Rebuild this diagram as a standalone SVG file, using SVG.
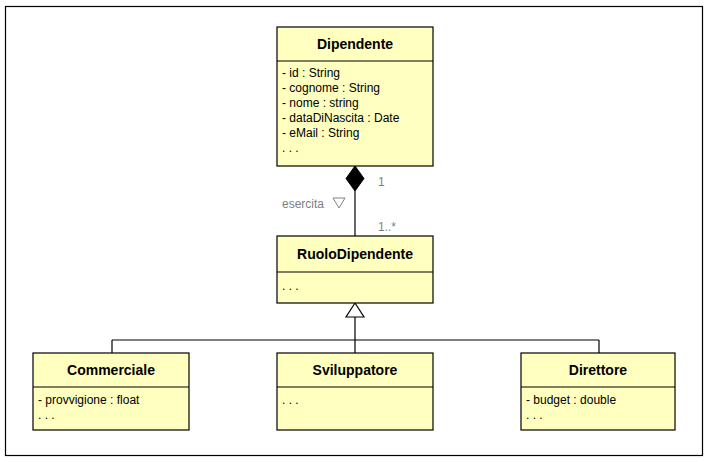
<svg xmlns="http://www.w3.org/2000/svg" width="711" height="462" viewBox="0 0 711 462">
<style>
.box{fill:#ffffc0;stroke:#000;stroke-width:1.2}
.ln{stroke:#000;stroke-width:1.2;fill:none}
.t{font-family:"Liberation Sans",Arial,sans-serif;font-size:14px;font-weight:bold;text-anchor:middle;fill:#000}
.a{font-family:"Liberation Sans",Arial,sans-serif;font-size:12px;fill:#000}
.lb{font-family:"Liberation Sans",Arial,sans-serif;font-size:12px;fill:#808080}
</style>
<rect x="0" y="0" width="711" height="462" fill="#fff"/>
<rect x="5.5" y="6.5" width="697" height="449" fill="none" stroke="#000" stroke-width="1.2"/>
<g id="connectors">
<line class="ln" x1="355" y1="191" x2="355" y2="236"/>
<path d="M355,166 L364,178.5 L355,191 L346,178.5 Z" fill="#000" stroke="#000"/>
<path class="ln" d="M355,317 L355,340 M112,340 L599,340 M112,340 L112,353 M599,340 L599,353 M355,340 L355,353"/>
<path d="M355,303 L364,317 L346,317 Z" fill="#fff" stroke="#000" stroke-width="1.2"/>
<text class="lb" x="378" y="186">1</text>
<text class="lb" x="282" y="208">esercita</text>
<path d="M333,198 L345,198 L339,208 Z" fill="none" stroke="#808080" stroke-width="1"/>
<text class="lb" x="378" y="231">1..*</text>
</g>
<g id="Dipendente">
<rect class="box" x="277" y="27" width="156" height="139"/>
<line class="ln" x1="277" y1="61" x2="433" y2="61"/>
<text class="t" x="355" y="49">Dipendente</text>
<text class="a" x="282" y="77">- id : String</text>
<text class="a" x="282" y="92">- cognome : String</text>
<text class="a" x="282" y="107">- nome : string</text>
<text class="a" x="282" y="122">- dataDiNascita : Date</text>
<text class="a" x="282" y="137">- eMail : String</text>
<text class="a" x="282" y="152">. . .</text>
</g>
<g id="RuoloDipendente">
<rect class="box" x="277" y="236" width="156" height="67"/>
<line class="ln" x1="277" y1="272" x2="433" y2="272"/>
<text class="t" x="355" y="259">RuoloDipendente</text>
<text class="a" x="282" y="290">. . .</text>
</g>
<g id="Commerciale">
<rect class="box" x="33" y="353" width="156" height="77"/>
<line class="ln" x1="33" y1="387" x2="189" y2="387"/>
<text class="t" x="111" y="375">Commerciale</text>
<text class="a" x="38" y="404">- provvigione : float</text>
<text class="a" x="38" y="419">. . .</text>
</g>
<g id="Sviluppatore">
<rect class="box" x="277" y="353" width="156" height="77"/>
<line class="ln" x1="277" y1="387" x2="433" y2="387"/>
<text class="t" x="355" y="375">Sviluppatore</text>
<text class="a" x="282" y="404">. . .</text>
</g>
<g id="Direttore">
<rect class="box" x="521" y="353" width="154" height="77"/>
<line class="ln" x1="521" y1="387" x2="675" y2="387"/>
<text class="t" x="598" y="375">Direttore</text>
<text class="a" x="526" y="404">- budget : double</text>
<text class="a" x="526" y="419">. . .</text>
</g>
</svg>
